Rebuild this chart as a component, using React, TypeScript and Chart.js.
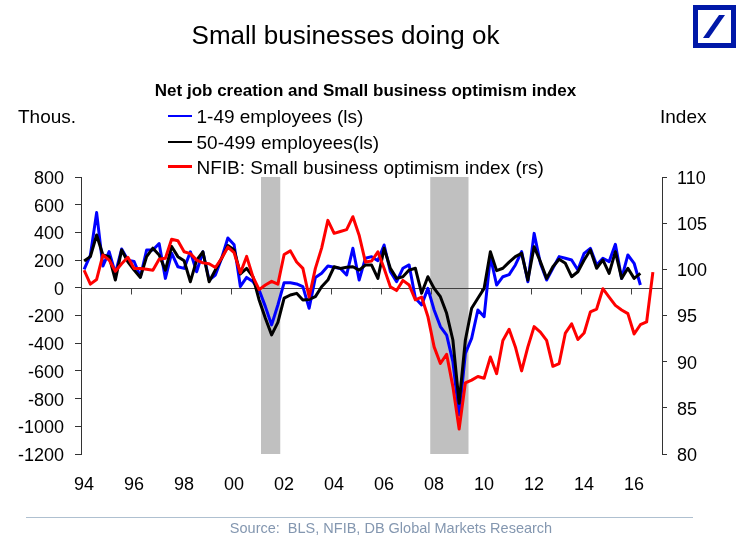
import React, { useEffect, useRef } from 'react';
import { Chart, registerables } from 'chart.js';

Chart.register(...registerables);

const FONT = '"Liberation Sans", Arial, Helvetica, sans-serif';

// Quarterly observations from 1994 Q1, plotted at mid-quarter
const FIRST_DATE = 1994.125;
const STEP = 0.25;

// Net job creation, thousands (left scale)
const jobs1to49 = [
  133, 236, 543, 157, 261, 104, 280, 200, 190, 80,
  273, 273, 320, 68, 250, 152, 140, 260, 116, 260,
  56, 92, 213, 360, 310, 10, 75, 45, -16, -136,
  -268, -124, 37, 37, 28, 8, -148, 75, 105, 157,
  148, 140, 93, 285, 56, 213, 225, 196, 309, 116,
  44, 141, 165, -76, -124, -4, -160, -280, -341, -533,
  -918, -473, -365, -160, -208, 225, 20, 80, 95, 165,
  261, 44, 393, 177, 56, 141, 225, 213, 201, 128,
  249, 285, 165, 213, 189, 314, 68, 237, 177, 20,
];

const jobs50to499 = [
  193, 225, 381, 237, 225, 56, 273, 188, 128, 75,
  225, 286, 237, 128, 298, 225, 195, 44, 200, 260,
  44, 128, 213, 305, 273, 100, 140, 80, -88, -220,
  -340, -250, -75, -52, -40, -88, -84, -64, 8, 56,
  152, 140, 148, 152, 128, 164, 164, 68, 285, 140,
  68, 80, 128, 141, -40, 80, -4, -64, -184, -377,
  -834, -377, -148, -76, -4, 261, 124, 141, 185, 225,
  249, 56, 297, 189, 68, 152, 206, 177, 80, 116,
  201, 273, 141, 201, 104, 261, 68, 141, 68, 104,
];

// NFIB small business optimism index (right scale)
const nfibIndex = [
  99.9, 98.4, 98.9, 101.55, 101.0, 99.8, 100.6, 101.3, 100.1, 100.1,
  100.0, 99.9, 101.1, 101.2, 103.25, 103.1, 101.9, 101.7, 101.0, 100.7,
  100.6, 100.2, 101.2, 102.4, 101.8, 99.6, 101.4, 99.2, 97.8, 98.3,
  98.7, 98.4, 101.6, 102.0, 100.8, 100.1, 97.0, 100.1, 102.3, 105.3,
  103.9, 104.1, 104.3, 105.7, 103.7, 100.8, 100.9, 101.9, 100.1, 98.1,
  97.7, 98.8, 98.3, 96.7, 97.0, 94.9, 91.6, 89.8, 90.8, 87.3,
  82.7, 87.7, 88.0, 88.4, 88.2, 90.5, 88.7, 92.3, 93.5, 91.6,
  89.0, 91.6, 93.8, 93.2, 92.3, 89.5, 89.8, 93.1, 94.1, 92.4,
  93.1, 95.4, 95.7, 97.9, 97.0, 96.1, 95.6, 95.2, 93.0, 94.0,
  94.3, 99.7,
];

// Recession periods (shaded)
const recessions: [number, number][] = [
  [2001.2, 2001.97],
  [2007.97, 2009.5],
];

const yearTicks = [1994, 1996, 1998, 2000, 2002, 2004, 2006, 2008, 2010, 2012, 2014, 2016];
const leftRange = { min: -1200, max: 800, step: 200 };
const rightRange = { min: 80, max: 110, step: 5 };
const xRange = { min: 1994, max: 2017.24 };

const seriesLabels = [
  '1-49 employees (ls)',
  '50-499 employees(ls)',
  'NFIB: Small business optimism index (rs)',
];
const seriesColors = ['#0000FF', '#000000', '#FF0000'];

const toPoints = (vals: number[]) => vals.map((y, i) => ({ x: FIRST_DATE + i * STEP, y }));

const decorPlugin = {
  id: 'decor',
  beforeDatasetsDraw(chart: any) {
    const { ctx, chartArea, scales } = chart;
    const x = scales.x;
    const yL = scales.yL;
    ctx.save();
    ctx.fillStyle = '#C0C0C0';
    recessions.forEach(([a, b]) => {
      const x0 = x.getPixelForValue(a);
      const x1 = x.getPixelForValue(b);
      ctx.fillRect(x0, chartArea.top, x1 - x0, chartArea.bottom - chartArea.top);
    });
    const y0 = Math.round(yL.getPixelForValue(0)) + 0.5;
    ctx.strokeStyle = '#404040';
    ctx.lineWidth = 1;
    ctx.beginPath();
    ctx.moveTo(chartArea.left, y0);
    ctx.lineTo(chartArea.right, y0);
    yearTicks.forEach((t) => {
      const px = Math.round(x.getPixelForValue(t)) + 0.5;
      ctx.moveTo(px, y0);
      ctx.lineTo(px, y0 + 6);
    });
    ctx.stroke();
    ctx.restore();
  },
};

const tickFont = { family: FONT, size: 18 };

export default function App() {
  const canvasRef = useRef<HTMLCanvasElement | null>(null);

  useEffect(() => {
    if (!canvasRef.current) return;
    const chart = new Chart(canvasRef.current, {
      type: 'line',
      data: {
        datasets: [
          {
            label: seriesLabels[0],
            data: toPoints(jobs1to49),
            yAxisID: 'yL',
            borderColor: seriesColors[0],
            borderWidth: 3,
            pointRadius: 0,
            tension: 0,
            borderJoinStyle: 'round',
            order: 3,
          },
          {
            label: seriesLabels[1],
            data: toPoints(jobs50to499),
            yAxisID: 'yL',
            borderColor: seriesColors[1],
            borderWidth: 3,
            pointRadius: 0,
            tension: 0,
            borderJoinStyle: 'round',
            order: 2,
          },
          {
            label: seriesLabels[2],
            data: toPoints(nfibIndex),
            yAxisID: 'yR',
            borderColor: seriesColors[2],
            borderWidth: 3,
            pointRadius: 0,
            tension: 0,
            borderJoinStyle: 'round',
            order: 1,
          },
        ],
      } as any,
      options: {
        responsive: false,
        animation: false,
        events: [],
        layout: { padding: { top: 177, left: 0, right: 0, bottom: 0 } },
        plugins: {
          legend: { display: false },
          tooltip: { enabled: false },
          title: { display: false },
        },
        scales: {
          x: {
            type: 'linear',
            min: xRange.min,
            max: xRange.max,
            afterBuildTicks: (s: any) => {
              s.ticks = yearTicks.map((v) => ({ value: v }));
            },
            afterFit: (s: any) => {
              s.height = 90;
            },
            grid: { display: false, drawTicks: false },
            border: { display: false },
            ticks: {
              autoSkip: false,
              maxRotation: 0,
              padding: 20,
              labelOffset: 3,
              color: '#000',
              font: tickFont,
              callback: (v: any) => String(Number(v) % 100).padStart(2, '0'),
            },
          },
          yL: {
            type: 'linear',
            position: 'left',
            min: leftRange.min,
            max: leftRange.max,
            afterFit: (s: any) => {
              s.width = 81;
            },
            grid: { drawOnChartArea: false, drawTicks: true, tickLength: 6, color: '#333' },
            border: { display: true, color: '#333', width: 1 },
            ticks: {
              stepSize: leftRange.step,
              autoSkip: false,
              padding: 11,
              labelOffset: 2,
              color: '#000',
              font: tickFont,
              callback: (v: any) => String(v),
            },
          },
          yR: {
            type: 'linear',
            position: 'right',
            min: rightRange.min,
            max: rightRange.max,
            afterFit: (s: any) => {
              s.width = 82;
            },
            grid: { drawOnChartArea: false, drawTicks: true, tickLength: 5, color: '#333' },
            border: { display: true, color: '#333', width: 1 },
            ticks: {
              stepSize: rightRange.step,
              autoSkip: false,
              padding: 10,
              labelOffset: 2,
              color: '#000',
              font: tickFont,
              callback: (v: any) => String(v),
            },
          },
        },
      } as any,
      plugins: [decorPlugin],
    });
    return () => chart.destroy();
  }, []);

  const legendTops = [116.5, 142.5, 167.2];

  return (
    <div
      style={{
        position: 'fixed',
        left: 0,
        top: 0,
        width: 744,
        height: 544,
        overflow: 'hidden',
        background: '#fff',
        fontFamily: FONT,
        color: '#000',
      }}
    >
      <canvas
        ref={canvasRef}
        width={744}
        height={544}
        style={{ position: 'absolute', left: 0, top: 0, width: 744, height: 544 }}
      />
      <div
        style={{
          position: 'absolute', left: 0, width: 691, top: 22,
          fontSize: 26, lineHeight: '26px', textAlign: 'center', whiteSpace: 'nowrap',
        }}
      >
        Small businesses doing ok
      </div>
      <div
        style={{
          position: 'absolute', left: 0, width: 731, top: 82,
          fontSize: 17, lineHeight: '17px', fontWeight: 'bold', textAlign: 'center', whiteSpace: 'nowrap',
        }}
      >
        Net job creation and Small business optimism index
      </div>
      <div style={{ position: 'absolute', left: 18, top: 107, fontSize: 19, lineHeight: '19px', whiteSpace: 'nowrap' }}>
        Thous.
      </div>
      <div style={{ position: 'absolute', left: 660, top: 107, fontSize: 19, lineHeight: '19px', whiteSpace: 'nowrap' }}>
        Index
      </div>
      {seriesLabels.map((lab, i) => (
        <React.Fragment key={lab}>
          <div
            style={{
              position: 'absolute', left: 168, width: 24, top: legendTops[i] - 2, height: 2.5,
              background: seriesColors[i],
            }}
          />
          <div
            style={{
              position: 'absolute', left: 196.5, top: legendTops[i] - 9.5,
              fontSize: 19, lineHeight: '19px', whiteSpace: 'nowrap',
            }}
          >
            {lab}
          </div>
        </React.Fragment>
      ))}
      <svg
        width={43}
        height={43}
        viewBox="0 0 43 43"
        style={{ position: 'absolute', left: 693, top: 5 }}
      >
        <rect x={2.5} y={2.5} width={38} height={38} fill="none" stroke="#0018A8" strokeWidth={5} />
        <polygon points="10,33 16,33 32,10 26,10" fill="#0018A8" />
      </svg>
      <div style={{ position: 'absolute', left: 26, top: 517, width: 667, height: 1, background: '#AFC0D0' }} />
      <div
        style={{
          position: 'absolute', left: 191, width: 400, top: 521, fontSize: 14.5, lineHeight: '14.5px',
          textAlign: 'center', color: '#8497B0', whiteSpace: 'nowrap',
        }}
      >
        Source:&nbsp; BLS, NFIB, DB Global Markets Research
      </div>
    </div>
  );
}
